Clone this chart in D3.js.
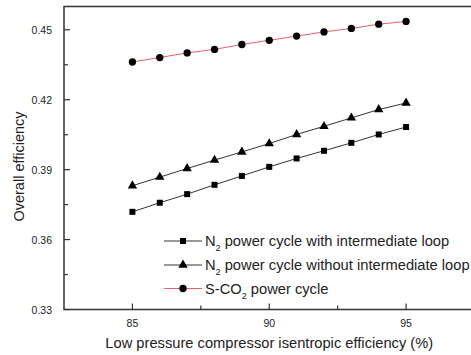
<!DOCTYPE html>
<html>
<head>
<meta charset="utf-8">
<script src="https://cdn.jsdelivr.net/npm/d3@7"></script>
<style>
  body { margin: 0; background: #fff; }
  text { font-family: "Liberation Sans", Arial, sans-serif; fill: #222; }
</style>
</head>
<body>
<svg id="chart" width="471" height="355"></svg>
<script>
// efficiency (%) on x
const xVals = [85, 86, 87, 88, 89, 90, 91, 92, 93, 94, 95];
const withLoop = [0.3719, 0.3758, 0.3795, 0.3835, 0.3873, 0.3912, 0.3948, 0.3981, 0.4015, 0.4051, 0.4083];
const withoutLoop = [0.3831, 0.3868, 0.3905, 0.3941, 0.3976, 0.4012, 0.4051, 0.4086, 0.4122, 0.4158, 0.4186];
const sco2 = [0.4362, 0.4381, 0.4401, 0.4416, 0.4437, 0.4455, 0.4473, 0.4491, 0.4506, 0.4524, 0.4536];
const xTicks = [85, 90, 95];
const yTicks = [0.33, 0.36, 0.39, 0.42, 0.45];

const series = [
    { sub: "2", pre: "N", post: " power cycle with intermediate loop", vals: withLoop, sym: d3.symbolSquare, size: 36, color: "#333" },
    { sub: "2", pre: "N", post: " power cycle without intermediate loop", vals: withoutLoop, sym: d3.symbolTriangle, size: 38, color: "#333" },
    { sub: "2", pre: "S-CO", post: " power cycle", vals: sco2, sym: d3.symbolCircle, size: 42, color: "#e8606a" }
];

const svg = d3.select("#chart");
const mLeft = 64, mTop = 6.5, mRight = 474.5, mBottom = 309.5;

const x = d3.scaleLinear().domain([82.5, 97.5]).range([mLeft, mRight]);
const y = d3.scaleLinear().domain([0.33, 0.46]).range([mBottom, mTop]);

// frame
svg.append("rect")
    .attr("x", mLeft).attr("y", mTop)
    .attr("width", mRight - mLeft).attr("height", mBottom - mTop)
    .attr("fill", "none").attr("stroke", "#333").attr("stroke-width", 1.5);

// ticks (inward)
const g = svg.append("g").attr("stroke", "#333").attr("stroke-width", 1.2);
d3.range(0.33, 0.4601, 0.015).forEach((v, i) => {
    const len = i % 2 === 0 ? 6 : 4;
    g.append("line").attr("x1", mLeft).attr("x2", mLeft + len).attr("y1", y(v)).attr("y2", y(v));
});
[85, 87.5, 90, 92.5, 95].forEach((v, i) => {
    const len = i % 2 === 0 ? 6 : 4;
    g.append("line").attr("x1", x(v)).attr("x2", x(v)).attr("y1", mBottom).attr("y2", mBottom - len);
});

svg.selectAll(".ylab").data(yTicks).enter().append("text")
    .attr("x", mLeft - 12).attr("y", d => y(d) + 4)
    .attr("text-anchor", "end").attr("font-size", 10.5)
    .text(d => d3.format(".2f")(d));

svg.selectAll(".xlab").data(xTicks).enter().append("text")
    .attr("x", d => x(d)).attr("y", 327)
    .attr("text-anchor", "middle").attr("font-size", 10.5)
    .text(d => d);

svg.append("text")
    .attr("x", x(90)).attr("y", 348)
    .attr("text-anchor", "middle").attr("font-size", 14.7)
    .text("Low pressure compressor isentropic efficiency (%)");

svg.append("text")
    .attr("transform", "translate(24, 166.5) rotate(-90)")
    .attr("text-anchor", "middle").attr("font-size", 14.5)
    .text("Overall efficiency");

const line = d3.line().x((d, i) => x(xVals[i])).y(d => y(d));

series.forEach(s => {
    svg.append("path")
        .attr("d", line(s.vals))
        .attr("fill", "none")
        .attr("stroke", s.color)
        .attr("stroke-width", 1);
    svg.append("g").selectAll("path").data(s.vals).enter().append("path")
        .attr("transform", (d, i) => `translate(${x(xVals[i])}, ${y(d)})`)
        .attr("d", d3.symbol().type(s.sym).size(s.size))
        .attr("fill", "#000");
});

// legend
const legY = [241, 265, 288.5];
series.forEach((s, i) => {
    const ly = legY[i];
    svg.append("line").attr("x1", 164).attr("x2", 202).attr("y1", ly).attr("y2", ly)
        .attr("stroke", s.color).attr("stroke-width", 1);
    svg.append("path")
        .attr("transform", `translate(183, ${ly})`)
        .attr("d", d3.symbol().type(s.sym).size(s.size))
        .attr("fill", "#000");
    const t = svg.append("text").attr("x", 205).attr("y", ly + 5).attr("font-size", 14.7);
    t.append("tspan").text(s.pre);
    t.append("tspan").attr("font-size", 9).attr("dy", 5).text(s.sub);
    t.append("tspan").attr("dy", -5).text(s.post);
});
</script>
</body>
</html>
